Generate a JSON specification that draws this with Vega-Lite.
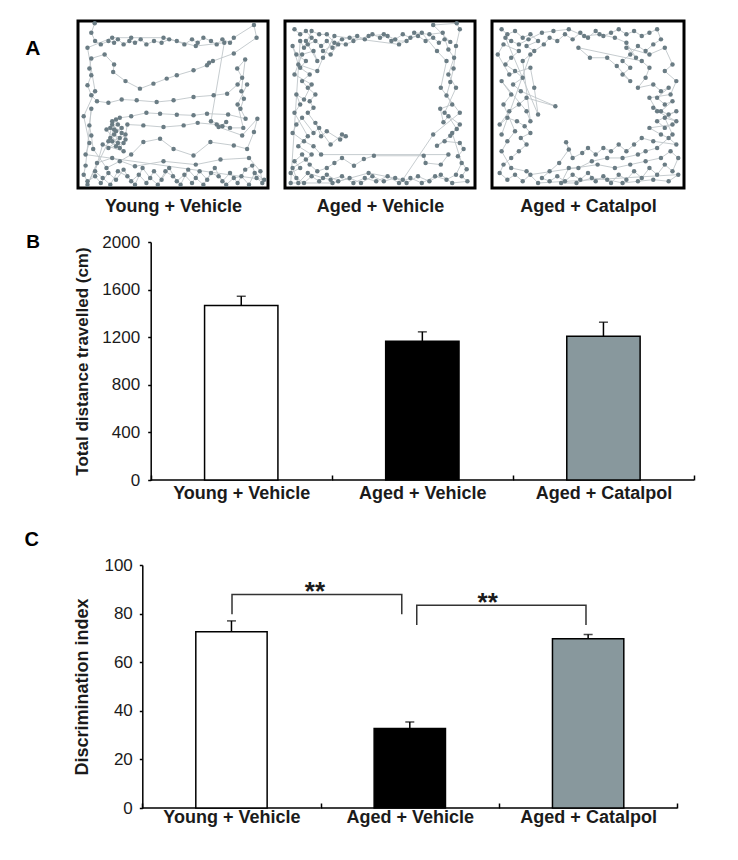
{
  "$schema": "https://vega.github.io/schema/vega-lite/v6.json",
  "background": "white",
  "padding": {"left": 24, "top": 19, "right": 5, "bottom": 5},
  "spacing": 16,
  "config": {
    "font": "Liberation Sans",
    "view": {"stroke": null},
    "axis": {"domainColor": "black", "domainWidth": 1.5, "tickColor": "black", "tickWidth": 1.5, "labelColor": "#1b1b1b", "titleColor": "#1b1b1b", "grid": false, "titleFontWeight": "bold"},
    "axisX": {"tickBand": "extent", "tickSize": -5, "labelAngle": 0, "labelFontSize": 18, "labelFontWeight": "bold", "labelPadding": 6},
    "axisY": {"labelFontSize": 17, "tickSize": 3, "labelPadding": 8, "format": "d"},
    "title": {"color": "black", "fontWeight": "bold"}
  },
  "datasets": {
    "track": [
      {"p":"Y","i":1,"x":8.8,"y":98.6},{"p":"Y","i":2,"x":7,"y":93},{"p":"Y","i":3,"x":9,"y":88},{"p":"Y","i":4,"x":12,"y":86},{"p":"Y","i":5,"x":16,"y":88},{"p":"Y","i":6,"x":19,"y":87},{"p":"Y","i":7,"x":21,"y":89},{"p":"Y","i":8,"x":24,"y":86},{"p":"Y","i":9,"x":27,"y":88},{"p":"Y","i":10,"x":30,"y":87},
      {"p":"Y","i":11,"x":33,"y":89},{"p":"Y","i":12,"x":36,"y":86},{"p":"Y","i":13,"x":40,"y":88},{"p":"Y","i":14,"x":44,"y":87},{"p":"Y","i":15,"x":48,"y":89},{"p":"Y","i":16,"x":52,"y":88},{"p":"Y","i":17,"x":56,"y":86},{"p":"Y","i":18,"x":60,"y":89},{"p":"Y","i":19,"x":63,"y":87},{"p":"Y","i":20,"x":66,"y":90},
      {"p":"Y","i":21,"x":70,"y":88},{"p":"Y","i":22,"x":73,"y":86},{"p":"Y","i":23,"x":76,"y":89},{"p":"Y","i":24,"x":80,"y":87},{"p":"Y","i":25,"x":82,"y":90},{"p":"Y","i":26,"x":92.6,"y":97.6},{"p":"Y","i":27,"x":94,"y":90},{"p":"Y","i":28,"x":82,"y":80.6},{"p":"Y","i":29,"x":71,"y":76},{"p":"Y","i":30,"x":69,"y":75},
      {"p":"Y","i":31,"x":67.9,"y":73.5},{"p":"Y","i":32,"x":60.8,"y":70.5},{"p":"Y","i":33,"x":52,"y":67.5},{"p":"Y","i":34,"x":46.7,"y":65.5},{"p":"Y","i":35,"x":39.7,"y":62.5},{"p":"Y","i":36,"x":32.6,"y":59.5},{"p":"Y","i":37,"x":25,"y":64},{"p":"Y","i":38,"x":18.5,"y":69.5},{"p":"Y","i":39,"x":19,"y":74},{"p":"Y","i":40,"x":14,"y":80},
      {"p":"Y","i":41,"x":7,"y":77.6},{"p":"Y","i":42,"x":6,"y":71.5},{"p":"Y","i":43,"x":7,"y":67.5},{"p":"Y","i":44,"x":5,"y":61.5},{"p":"Y","i":45,"x":7,"y":55.5},{"p":"Y","i":46,"x":10,"y":52},{"p":"Y","i":47,"x":16,"y":51},{"p":"Y","i":48,"x":23,"y":53},{"p":"Y","i":49,"x":30.9,"y":52.5},{"p":"Y","i":50,"x":41.4,"y":51.5},
      {"p":"Y","i":51,"x":50.3,"y":52.5},{"p":"Y","i":52,"x":60.8,"y":54.5},{"p":"Y","i":53,"x":71.4,"y":55.5},{"p":"Y","i":54,"x":78.5,"y":56.5},{"p":"Y","i":55,"x":84,"y":62},{"p":"Y","i":56,"x":86.4,"y":66},{"p":"Y","i":57,"x":83.8,"y":71.5},{"p":"Y","i":58,"x":88,"y":77},{"p":"Y","i":59,"x":86,"y":58},{"p":"Y","i":60,"x":87.3,"y":53.5},
      {"p":"Y","i":61,"x":85.5,"y":47.5},{"p":"Y","i":62,"x":88.2,"y":41.5},{"p":"Y","i":63,"x":79,"y":44},{"p":"Y","i":64,"x":67.9,"y":44.5},{"p":"Y","i":65,"x":60.8,"y":43.5},{"p":"Y","i":66,"x":52,"y":43.9},{"p":"Y","i":67,"x":43.2,"y":44.5},{"p":"Y","i":68,"x":36,"y":45},{"p":"Y","i":69,"x":28,"y":43},{"p":"Y","i":70,"x":22,"y":42},
      {"p":"Y","i":71,"x":18,"y":40},{"p":"Y","i":72,"x":21,"y":38},{"p":"Y","i":73,"x":17,"y":36},{"p":"Y","i":74,"x":20,"y":34},{"p":"Y","i":75,"x":23,"y":36},{"p":"Y","i":76,"x":19,"y":32},{"p":"Y","i":77,"x":22,"y":30},{"p":"Y","i":78,"x":18,"y":28},{"p":"Y","i":79,"x":24,"y":27},{"p":"Y","i":80,"x":20,"y":25},
      {"p":"Y","i":81,"x":16,"y":24},{"p":"Y","i":82,"x":25,"y":32},{"p":"Y","i":83,"x":26,"y":38},{"p":"Y","i":84,"x":34.4,"y":37.5},{"p":"Y","i":85,"x":45,"y":36.5},{"p":"Y","i":86,"x":55.6,"y":37.5},{"p":"Y","i":87,"x":63,"y":39},{"p":"Y","i":88,"x":73,"y":38},{"p":"Y","i":89,"x":76,"y":37},{"p":"Y","i":90,"x":78,"y":39.5},
      {"p":"Y","i":91,"x":74,"y":36.5},{"p":"Y","i":92,"x":86.4,"y":31.5},{"p":"Y","i":93,"x":94.4,"y":41.5},{"p":"Y","i":94,"x":92.6,"y":33.5},{"p":"Y","i":95,"x":89,"y":23.4},{"p":"Y","i":96,"x":82,"y":25.5},{"p":"Y","i":97,"x":69.7,"y":27.5},{"p":"Y","i":98,"x":60.8,"y":19.4},{"p":"Y","i":99,"x":50.3,"y":23.4},{"p":"Y","i":100,"x":43.2,"y":29.5},
      {"p":"Y","i":101,"x":34.4,"y":27.5},{"p":"Y","i":102,"x":28,"y":20},{"p":"Y","i":103,"x":22,"y":16},{"p":"Y","i":104,"x":15,"y":12},{"p":"Y","i":105,"x":8,"y":23.4},{"p":"Y","i":106,"x":7,"y":31.5},{"p":"Y","i":107,"x":6,"y":37.5},{"p":"Y","i":108,"x":7,"y":47.5},{"p":"Y","i":109,"x":4,"y":13.4},{"p":"Y","i":110,"x":3,"y":8},
      {"p":"Y","i":111,"x":5,"y":4},{"p":"Y","i":112,"x":9,"y":7},{"p":"Y","i":113,"x":12,"y":3},{"p":"Y","i":114,"x":16,"y":9},{"p":"Y","i":115,"x":20,"y":5},{"p":"Y","i":116,"x":24,"y":11},{"p":"Y","i":117,"x":28,"y":4},{"p":"Y","i":118,"x":32,"y":8},{"p":"Y","i":119,"x":36,"y":3},{"p":"Y","i":120,"x":40,"y":10},
      {"p":"Y","i":121,"x":44,"y":5},{"p":"Y","i":122,"x":48,"y":12},{"p":"Y","i":123,"x":52,"y":4},{"p":"Y","i":124,"x":56,"y":8},{"p":"Y","i":125,"x":60,"y":3},{"p":"Y","i":126,"x":64,"y":10},{"p":"Y","i":127,"x":68,"y":5},{"p":"Y","i":128,"x":72,"y":12},{"p":"Y","i":129,"x":76,"y":4},{"p":"Y","i":130,"x":80,"y":9},
      {"p":"Y","i":131,"x":84,"y":3},{"p":"Y","i":132,"x":88,"y":11},{"p":"Y","i":133,"x":91.7,"y":13.4},{"p":"Y","i":134,"x":94,"y":6},{"p":"Y","i":135,"x":97,"y":3},{"p":"Y","i":136,"x":96,"y":10},{"p":"Y","i":137,"x":90,"y":18},{"p":"Y","i":138,"x":75,"y":17},{"p":"Y","i":139,"x":62,"y":14},{"p":"Y","i":140,"x":45,"y":16},
      {"p":"Y","i":141,"x":30,"y":13},{"p":"Y","i":142,"x":18,"y":18},{"p":"Y","i":143,"x":10,"y":15},{"p":"Y","i":144,"x":5,"y":2},
      {"p":"Y","i":145,"x":17,"y":30},{"p":"Y","i":146,"x":19,"y":35},{"p":"Y","i":147,"x":21,"y":27},{"p":"Y","i":148,"x":23,"y":33},{"p":"Y","i":149,"x":18,"y":38},{"p":"Y","i":150,"x":16,"y":28},{"p":"Y","i":151,"x":22,"y":24},{"p":"Y","i":152,"x":25,"y":29},{"p":"Y","i":153,"x":20,"y":41},{"p":"Y","i":154,"x":15,"y":35},
      {"p":"Y","i":155,"x":24,"y":22},{"p":"Y","i":156,"x":13,"y":26},{"p":"Y","i":157,"x":9,"y":10},{"p":"Y","i":158,"x":13,"y":6},{"p":"Y","i":159,"x":17,"y":2},{"p":"Y","i":160,"x":21,"y":10},{"p":"Y","i":161,"x":26,"y":7},{"p":"Y","i":162,"x":30,"y":2},{"p":"Y","i":163,"x":34,"y":12},{"p":"Y","i":164,"x":38,"y":6},
      {"p":"Y","i":165,"x":42,"y":2},{"p":"Y","i":166,"x":46,"y":10},{"p":"Y","i":167,"x":50,"y":7},{"p":"Y","i":168,"x":54,"y":2},{"p":"Y","i":169,"x":58,"y":11},{"p":"Y","i":170,"x":62,"y":6},{"p":"Y","i":171,"x":66,"y":2},{"p":"Y","i":172,"x":70,"y":9},{"p":"Y","i":173,"x":74,"y":7},{"p":"Y","i":174,"x":78,"y":2},
      {"p":"Y","i":175,"x":82,"y":6},{"p":"Y","i":176,"x":86,"y":7},{"p":"Y","i":177,"x":90,"y":2},{"p":"Y","i":178,"x":93,"y":9},{"p":"Y","i":179,"x":98,"y":5},{"p":"Y","i":180,"x":4,"y":20},{"p":"Y","i":181,"x":6,"y":27},{"p":"Y","i":182,"x":3,"y":43},{"p":"Y","i":183,"x":9,"y":58},{"p":"Y","i":184,"x":5,"y":84},
      {"p":"Y","i":185,"x":18,"y":90},{"p":"Y","i":186,"x":28,"y":90},{"p":"Y","i":187,"x":45,"y":90},{"p":"Y","i":188,"x":62,"y":85},{"p":"Y","i":189,"x":77,"y":87},{"p":"Y","i":190,"x":70,"y":40},{"p":"Y","i":191,"x":80,"y":36},{"p":"Y","i":192,"x":87,"y":36},{"p":"Y","i":193,"x":84,"y":50},{"p":"Y","i":194,"x":89,"y":62},
      {"p":"V","i":1,"x":5,"y":95},{"p":"V","i":2,"x":8,"y":92},{"p":"V","i":3,"x":11,"y":94},{"p":"V","i":4,"x":14,"y":90},{"p":"V","i":5,"x":12,"y":86},{"p":"V","i":6,"x":16,"y":88},{"p":"V","i":7,"x":19,"y":85},{"p":"V","i":8,"x":22,"y":88},{"p":"V","i":9,"x":25,"y":84},{"p":"V","i":10,"x":28,"y":86},
      {"p":"V","i":11,"x":24,"y":80},{"p":"V","i":12,"x":20,"y":82},{"p":"V","i":13,"x":30,"y":89},{"p":"V","i":14,"x":34,"y":90},{"p":"V","i":15,"x":38,"y":91},{"p":"V","i":16,"x":42,"y":89},{"p":"V","i":17,"x":46,"y":92},{"p":"V","i":18,"x":50,"y":90},{"p":"V","i":19,"x":54,"y":91},{"p":"V","i":20,"x":58,"y":89},
      {"p":"V","i":21,"x":62,"y":92},{"p":"V","i":22,"x":66,"y":90},{"p":"V","i":23,"x":70,"y":91},{"p":"V","i":24,"x":74,"y":88},{"p":"V","i":25,"x":78,"y":90},{"p":"V","i":26,"x":81,"y":87},{"p":"V","i":27,"x":84,"y":89},{"p":"V","i":28,"x":87,"y":87.5},{"p":"V","i":29,"x":78,"y":97.6},{"p":"V","i":30,"x":90.4,"y":98.6},
      {"p":"V","i":31,"x":92,"y":95},{"p":"V","i":32,"x":90,"y":85},{"p":"V","i":33,"x":88.7,"y":71.5},{"p":"V","i":34,"x":87,"y":63.5},{"p":"V","i":35,"x":85,"y":55.4},{"p":"V","i":36,"x":88,"y":50},{"p":"V","i":37,"x":81.7,"y":47.4},{"p":"V","i":38,"x":83.4,"y":39.4},{"p":"V","i":39,"x":86,"y":43},{"p":"V","i":40,"x":90.4,"y":35.3},
      {"p":"V","i":41,"x":87,"y":31.3},{"p":"V","i":42,"x":80,"y":25.3},{"p":"V","i":43,"x":84,"y":28},{"p":"V","i":44,"x":92,"y":27},{"p":"V","i":45,"x":94,"y":23.3},{"p":"V","i":46,"x":91,"y":19},{"p":"V","i":47,"x":95.6,"y":11.2},{"p":"V","i":48,"x":93,"y":7},{"p":"V","i":49,"x":96,"y":4},{"p":"V","i":50,"x":88,"y":3},
      {"p":"V","i":51,"x":82,"y":8},{"p":"V","i":52,"x":76,"y":4},{"p":"V","i":53,"x":70,"y":7},{"p":"V","i":54,"x":64,"y":3},{"p":"V","i":55,"x":58,"y":6},{"p":"V","i":56,"x":52,"y":4},{"p":"V","i":57,"x":46,"y":7},{"p":"V","i":58,"x":40,"y":3},{"p":"V","i":59,"x":34,"y":6},{"p":"V","i":60,"x":28,"y":4},
      {"p":"V","i":61,"x":22,"y":8},{"p":"V","i":62,"x":18,"y":4},{"p":"V","i":63,"x":14,"y":7},{"p":"V","i":64,"x":10,"y":3},{"p":"V","i":65,"x":6,"y":6},{"p":"V","i":66,"x":3,"y":9},{"p":"V","i":67,"x":8,"y":12},{"p":"V","i":68,"x":5,"y":16},{"p":"V","i":69,"x":9,"y":20},{"p":"V","i":70,"x":13,"y":14},
      {"p":"V","i":71,"x":17,"y":10},{"p":"V","i":72,"x":22,"y":12},{"p":"V","i":73,"x":26,"y":15},{"p":"V","i":74,"x":30,"y":18},{"p":"V","i":75,"x":36.3,"y":13.3},{"p":"V","i":76,"x":41.5,"y":17.3},{"p":"V","i":77,"x":46.8,"y":19.3},{"p":"V","i":78,"x":73,"y":19.3},{"p":"V","i":79,"x":74,"y":15},{"p":"V","i":80,"x":82,"y":14},
      {"p":"V","i":81,"x":86,"y":20},{"p":"V","i":82,"x":19,"y":20},{"p":"V","i":83,"x":15,"y":25},{"p":"V","i":84,"x":10,"y":28},{"p":"V","i":85,"x":4,"y":33},{"p":"V","i":86,"x":6,"y":38},{"p":"V","i":87,"x":9,"y":42},{"p":"V","i":88,"x":15,"y":33},{"p":"V","i":89,"x":18,"y":36},{"p":"V","i":90,"x":16,"y":39},
      {"p":"V","i":91,"x":19,"y":31},{"p":"V","i":92,"x":22,"y":34},{"p":"V","i":93,"x":29,"y":29},{"p":"V","i":94,"x":32,"y":31},{"p":"V","i":95,"x":30,"y":32},{"p":"V","i":96,"x":24,"y":26},{"p":"V","i":97,"x":12,"y":45},{"p":"V","i":98,"x":15,"y":48},{"p":"V","i":99,"x":13,"y":52},{"p":"V","i":100,"x":16,"y":56},
      {"p":"V","i":101,"x":12,"y":60},{"p":"V","i":102,"x":9,"y":64},{"p":"V","i":103,"x":13,"y":68},{"p":"V","i":104,"x":8,"y":72},{"p":"V","i":105,"x":11,"y":76},{"p":"V","i":106,"x":6,"y":80},{"p":"V","i":107,"x":4,"y":85},{"p":"V","i":108,"x":7,"y":74},{"p":"V","i":109,"x":17,"y":70},{"p":"V","i":110,"x":20,"y":78},
      {"p":"V","i":111,"x":26,"y":91},{"p":"V","i":112,"x":60,"y":86},{"p":"V","i":113,"x":72,"y":93},{"p":"V","i":114,"x":80,"y":82},{"p":"V","i":115,"x":85,"y":76},{"p":"V","i":116,"x":82,"y":60},{"p":"V","i":117,"x":92,"y":45},{"p":"V","i":118,"x":78,"y":32},{"p":"V","i":119,"x":62,"y":5},{"p":"V","i":120,"x":44,"y":9},
      {"p":"V","i":121,"x":25,"y":3},{"p":"V","i":122,"x":3,"y":3},
      {"p":"V","i":123,"x":8,"y":88},{"p":"V","i":124,"x":10,"y":84},{"p":"V","i":125,"x":14,"y":94},{"p":"V","i":126,"x":18,"y":92},{"p":"V","i":127,"x":22,"y":92},{"p":"V","i":128,"x":26,"y":87},{"p":"V","i":129,"x":32,"y":86},{"p":"V","i":130,"x":36,"y":88},{"p":"V","i":131,"x":44,"y":91},{"p":"V","i":132,"x":52,"y":92},
      {"p":"V","i":133,"x":56,"y":88},{"p":"V","i":134,"x":64,"y":88},{"p":"V","i":135,"x":68,"y":93},{"p":"V","i":136,"x":76,"y":92},{"p":"V","i":137,"x":83,"y":93},{"p":"V","i":138,"x":86,"y":83},{"p":"V","i":139,"x":89,"y":78},{"p":"V","i":140,"x":86,"y":68},{"p":"V","i":141,"x":90,"y":60},{"p":"V","i":142,"x":84,"y":45},
      {"p":"V","i":143,"x":92,"y":38},{"p":"V","i":144,"x":88,"y":33},{"p":"V","i":145,"x":93,"y":15},{"p":"V","i":146,"x":90,"y":8},{"p":"V","i":147,"x":85,"y":5},{"p":"V","i":148,"x":79,"y":7},{"p":"V","i":149,"x":72,"y":3},{"p":"V","i":150,"x":66,"y":6},{"p":"V","i":151,"x":60,"y":3},{"p":"V","i":152,"x":54,"y":7},
      {"p":"V","i":153,"x":48,"y":4},{"p":"V","i":154,"x":42,"y":6},{"p":"V","i":155,"x":36,"y":3},{"p":"V","i":156,"x":30,"y":7},{"p":"V","i":157,"x":24,"y":5},{"p":"V","i":158,"x":20,"y":6},{"p":"V","i":159,"x":12,"y":9},{"p":"V","i":160,"x":7,"y":3},{"p":"V","i":161,"x":4,"y":12},{"p":"V","i":162,"x":11,"y":17},
      {"p":"V","i":163,"x":14,"y":20},{"p":"V","i":164,"x":7,"y":25},{"p":"V","i":165,"x":12,"y":31},{"p":"V","i":166,"x":5,"y":45},{"p":"V","i":167,"x":8,"y":50},{"p":"V","i":168,"x":6,"y":56},{"p":"V","i":169,"x":10,"y":53},{"p":"V","i":170,"x":14,"y":62},{"p":"V","i":171,"x":5,"y":68},{"p":"V","i":172,"x":9,"y":80},
      {"p":"V","i":173,"x":15,"y":82},{"p":"V","i":174,"x":17,"y":76},{"p":"V","i":175,"x":11,"y":88},
      {"p":"C","i":1,"x":5,"y":95},{"p":"C","i":2,"x":8,"y":92},{"p":"C","i":3,"x":12,"y":94},{"p":"C","i":4,"x":16,"y":90},{"p":"C","i":5,"x":20,"y":92},{"p":"C","i":6,"x":24,"y":88},{"p":"C","i":7,"x":18,"y":85},{"p":"C","i":8,"x":22,"y":82},{"p":"C","i":9,"x":27,"y":86},{"p":"C","i":10,"x":30,"y":90},
      {"p":"C","i":11,"x":34,"y":88},{"p":"C","i":12,"x":38,"y":92},{"p":"C","i":13,"x":42,"y":89},{"p":"C","i":14,"x":46,"y":93},{"p":"C","i":15,"x":50,"y":90},{"p":"C","i":16,"x":54,"y":94},{"p":"C","i":17,"x":58,"y":91},{"p":"C","i":18,"x":62,"y":93},{"p":"C","i":19,"x":66,"y":95},{"p":"C","i":20,"x":70,"y":92},
      {"p":"C","i":21,"x":74,"y":94},{"p":"C","i":22,"x":78,"y":91},{"p":"C","i":23,"x":82,"y":93},{"p":"C","i":24,"x":86,"y":95},{"p":"C","i":25,"x":88,"y":89},{"p":"C","i":26,"x":84,"y":86},{"p":"C","i":27,"x":80,"y":82},{"p":"C","i":28,"x":76,"y":85},{"p":"C","i":29,"x":72,"y":80},{"p":"C","i":30,"x":68,"y":76},
      {"p":"C","i":31,"x":72,"y":72},{"p":"C","i":32,"x":68,"y":68},{"p":"C","i":33,"x":72,"y":64},{"p":"C","i":34,"x":65,"y":73},{"p":"C","i":35,"x":60,"y":78},{"p":"C","i":36,"x":51,"y":78},{"p":"C","i":37,"x":45,"y":84},{"p":"C","i":38,"x":78,"y":76},{"p":"C","i":39,"x":82,"y":72},{"p":"C","i":40,"x":80,"y":66},
      {"p":"C","i":41,"x":76,"y":60},{"p":"C","i":42,"x":84,"y":62},{"p":"C","i":43,"x":88,"y":58},{"p":"C","i":44,"x":92,"y":60},{"p":"C","i":45,"x":86,"y":54},{"p":"C","i":46,"x":90,"y":50},{"p":"C","i":47,"x":94,"y":52},{"p":"C","i":48,"x":88,"y":46},{"p":"C","i":49,"x":84,"y":48},{"p":"C","i":50,"x":92,"y":44},
      {"p":"C","i":51,"x":96,"y":46},{"p":"C","i":52,"x":86,"y":40},{"p":"C","i":53,"x":90,"y":36},{"p":"C","i":54,"x":94,"y":38},{"p":"C","i":55,"x":82,"y":36},{"p":"C","i":56,"x":88,"y":32},{"p":"C","i":57,"x":92,"y":30},{"p":"C","i":58,"x":96,"y":26},{"p":"C","i":59,"x":84,"y":28},{"p":"C","i":60,"x":78,"y":30},
      {"p":"C","i":61,"x":74,"y":26},{"p":"C","i":62,"x":70,"y":22},{"p":"C","i":63,"x":66,"y":26},{"p":"C","i":64,"x":62,"y":22},{"p":"C","i":65,"x":58,"y":24},{"p":"C","i":66,"x":54,"y":20},{"p":"C","i":67,"x":50,"y":24},{"p":"C","i":68,"x":47,"y":21},{"p":"C","i":69,"x":42,"y":18},{"p":"C","i":70,"x":38.6,"y":27.4},
      {"p":"C","i":71,"x":40,"y":23},{"p":"C","i":72,"x":35,"y":15},{"p":"C","i":73,"x":30,"y":10},{"p":"C","i":74,"x":26,"y":6},{"p":"C","i":75,"x":30,"y":4},{"p":"C","i":76,"x":34,"y":7},{"p":"C","i":77,"x":38,"y":4},{"p":"C","i":78,"x":42,"y":8},{"p":"C","i":79,"x":46,"y":5},{"p":"C","i":80,"x":50,"y":9},
      {"p":"C","i":81,"x":54,"y":4},{"p":"C","i":82,"x":58,"y":7},{"p":"C","i":83,"x":62,"y":3},{"p":"C","i":84,"x":66,"y":8},{"p":"C","i":85,"x":70,"y":5},{"p":"C","i":86,"x":74,"y":10},{"p":"C","i":87,"x":78,"y":6},{"p":"C","i":88,"x":82,"y":12},{"p":"C","i":89,"x":86,"y":8},{"p":"C","i":90,"x":90,"y":14},
      {"p":"C","i":91,"x":94,"y":10},{"p":"C","i":92,"x":97,"y":18},{"p":"C","i":93,"x":93,"y":22},{"p":"C","i":94,"x":88,"y":18},{"p":"C","i":95,"x":80,"y":16},{"p":"C","i":96,"x":72,"y":14},{"p":"C","i":97,"x":64,"y":12},{"p":"C","i":98,"x":55,"y":14},{"p":"C","i":99,"x":20,"y":8},{"p":"C","i":100,"x":16,"y":4},
      {"p":"C","i":101,"x":12,"y":8},{"p":"C","i":102,"x":8,"y":5},{"p":"C","i":103,"x":4,"y":9},{"p":"C","i":104,"x":6,"y":14},{"p":"C","i":105,"x":10,"y":18},{"p":"C","i":106,"x":14,"y":22},{"p":"C","i":107,"x":18,"y":26},{"p":"C","i":108,"x":15,"y":30},{"p":"C","i":109,"x":20,"y":33},{"p":"C","i":110,"x":17,"y":37},
      {"p":"C","i":111,"x":13,"y":40},{"p":"C","i":112,"x":8,"y":42},{"p":"C","i":113,"x":4,"y":38},{"p":"C","i":114,"x":9,"y":46},{"p":"C","i":115,"x":14,"y":50},{"p":"C","i":116,"x":18,"y":54},{"p":"C","i":117,"x":33,"y":49},{"p":"C","i":118,"x":15,"y":58},{"p":"C","i":119,"x":11,"y":62},{"p":"C","i":120,"x":16,"y":66},
      {"p":"C","i":121,"x":12,"y":70},{"p":"C","i":122,"x":7,"y":74},{"p":"C","i":123,"x":10,"y":78},{"p":"C","i":124,"x":14,"y":82},{"p":"C","i":125,"x":6,"y":86},{"p":"C","i":126,"x":3,"y":80},{"p":"C","i":127,"x":9,"y":68},{"p":"C","i":128,"x":20,"y":72},{"p":"C","i":129,"x":22,"y":60},{"p":"C","i":130,"x":24,"y":44},
      {"p":"C","i":131,"x":7,"y":90},{"p":"C","i":132,"x":10,"y":88},{"p":"C","i":133,"x":14,"y":86},{"p":"C","i":134,"x":19,"y":89},{"p":"C","i":135,"x":26,"y":93},{"p":"C","i":136,"x":32,"y":94},{"p":"C","i":137,"x":40,"y":95},{"p":"C","i":138,"x":48,"y":91},{"p":"C","i":139,"x":56,"y":92},{"p":"C","i":140,"x":64,"y":90},
      {"p":"C","i":141,"x":70,"y":87},{"p":"C","i":142,"x":75,"y":78},{"p":"C","i":143,"x":70,"y":84},{"p":"C","i":144,"x":82,"y":80},{"p":"C","i":145,"x":90,"y":84},{"p":"C","i":146,"x":94,"y":74},{"p":"C","i":147,"x":90,"y":70},{"p":"C","i":148,"x":96,"y":64},{"p":"C","i":149,"x":93,"y":56},{"p":"C","i":150,"x":82,"y":54},
      {"p":"C","i":151,"x":86,"y":46},{"p":"C","i":152,"x":96,"y":40},{"p":"C","i":153,"x":90,"y":42},{"p":"C","i":154,"x":94,"y":32},{"p":"C","i":155,"x":86,"y":24},{"p":"C","i":156,"x":80,"y":22},{"p":"C","i":157,"x":76,"y":20},{"p":"C","i":158,"x":68,"y":18},{"p":"C","i":159,"x":60,"y":18},{"p":"C","i":160,"x":52,"y":16},
      {"p":"C","i":161,"x":45,"y":12},{"p":"C","i":162,"x":40,"y":12},{"p":"C","i":163,"x":36,"y":3},{"p":"C","i":164,"x":44,"y":3},{"p":"C","i":165,"x":52,"y":6},{"p":"C","i":166,"x":60,"y":5},{"p":"C","i":167,"x":68,"y":3},{"p":"C","i":168,"x":76,"y":4},{"p":"C","i":169,"x":84,"y":5},{"p":"C","i":170,"x":92,"y":4},
      {"p":"C","i":171,"x":97,"y":8},{"p":"C","i":172,"x":24,"y":3},{"p":"C","i":173,"x":18,"y":10},{"p":"C","i":174,"x":10,"y":12},{"p":"C","i":175,"x":5,"y":22},{"p":"C","i":176,"x":8,"y":28},{"p":"C","i":177,"x":12,"y":34},{"p":"C","i":178,"x":6,"y":50},{"p":"C","i":179,"x":10,"y":56},{"p":"C","i":180,"x":5,"y":64},
      {"p":"C","i":181,"x":18,"y":46},{"p":"C","i":182,"x":20,"y":40},{"p":"C","i":183,"x":16,"y":76},{"p":"C","i":184,"x":20,"y":80},{"p":"C","i":185,"x":5,"y":32}
    ],
    "dist": [
      {"g": "Young + Vehicle", "v": 1466, "e": 1544},
      {"g": "Aged + Vehicle", "v": 1167, "e": 1245},
      {"g": "Aged + Catalpol", "v": 1209, "e": 1326}
    ],
    "disc": [
      {"g": "Young + Vehicle", "v": 72.5, "e": 77.0},
      {"g": "Aged + Vehicle", "v": 32.7, "e": 35.4},
      {"g": "Aged + Catalpol", "v": 69.6, "e": 71.4}
    ],
    "brk": [
      {"b": 1, "k": 1, "x": 0.503, "y": 79.7},
      {"b": 1, "k": 2, "x": 0.503, "y": 87.9},
      {"b": 1, "k": 3, "x": 1.455, "y": 87.9},
      {"b": 1, "k": 4, "x": 1.455, "y": 79.7},
      {"b": 2, "k": 1, "x": 1.539, "y": 75.3},
      {"b": 2, "k": 2, "x": 1.539, "y": 83.4},
      {"b": 2, "k": 3, "x": 2.488, "y": 83.4},
      {"b": 2, "k": 4, "x": 2.488, "y": 75.3}
    ],
    "stars": [
      {"x": 0.968, "y": 85.6, "t": "**"},
      {"x": 1.937, "y": 81.0, "t": "**"}
    ]
  },
  "vconcat": [
    {
      "data": {"name": "track"},
      "spacing": 13,
      "title": {"text": "A", "orient": "left", "anchor": "end", "angle": 0, "fontSize": 21, "offset": 36, "align": "left", "baseline": "top", "dy": 18},
      "hconcat": [
        {
          "width": 190, "height": 167,
          "view": {"stroke": "black", "strokeWidth": 3},
          "transform": [{"filter": "datum.p == 'Y'"}],
          "encoding": {
            "x": {"field": "x", "type": "quantitative", "scale": {"domain": [0, 100], "nice": false},
              "axis": {"title": "Young + Vehicle", "domain": false, "ticks": false, "labels": false, "titleFontSize": 18, "titlePadding": 9}},
            "y": {"field": "y", "type": "quantitative", "scale": {"domain": [0, 100], "nice": false}, "axis": null}
          },
          "layer": [
            {"mark": {"type": "line", "color": "#c0c6c9", "strokeWidth": 0.9}, "encoding": {"order": {"field": "i", "type": "quantitative"}}},
            {"mark": {"type": "circle", "color": "#6a7c84", "size": 20, "opacity": 1}}
          ]
        },
        {
          "width": 190, "height": 167,
          "view": {"stroke": "black", "strokeWidth": 3},
          "transform": [{"filter": "datum.p == 'V'"}],
          "encoding": {
            "x": {"field": "x", "type": "quantitative", "scale": {"domain": [0, 100], "nice": false},
              "axis": {"title": "Aged + Vehicle", "domain": false, "ticks": false, "labels": false, "titleFontSize": 18, "titlePadding": 9}},
            "y": {"field": "y", "type": "quantitative", "scale": {"domain": [0, 100], "nice": false}, "axis": null}
          },
          "layer": [
            {"mark": {"type": "line", "color": "#c0c6c9", "strokeWidth": 0.9}, "encoding": {"order": {"field": "i", "type": "quantitative"}}},
            {"mark": {"type": "circle", "color": "#6a7c84", "size": 20, "opacity": 1}}
          ]
        },
        {
          "width": 192, "height": 167,
          "view": {"stroke": "black", "strokeWidth": 3},
          "transform": [{"filter": "datum.p == 'C'"}],
          "encoding": {
            "x": {"field": "x", "type": "quantitative", "scale": {"domain": [0, 100], "nice": false},
              "axis": {"title": "Aged + Catalpol", "domain": false, "ticks": false, "labels": false, "titleFontSize": 18, "titlePadding": 9}},
            "y": {"field": "y", "type": "quantitative", "scale": {"domain": [0, 100], "nice": false}, "axis": null}
          },
          "layer": [
            {"mark": {"type": "line", "color": "#c0c6c9", "strokeWidth": 0.9}, "encoding": {"order": {"field": "i", "type": "quantitative"}}},
            {"mark": {"type": "circle", "color": "#6a7c84", "size": 20, "opacity": 1}}
          ]
        }
      ]
    },
    {
      "data": {"name": "dist"},
      "width": 616,
      "height": 238,
      "title": {"text": "B", "orient": "left", "anchor": "end", "angle": 0, "fontSize": 19, "offset": 34, "align": "left", "baseline": "top"},
      "encoding": {
        "x": {"field": "g", "type": "nominal", "sort": ["Young + Vehicle", "Aged + Vehicle", "Aged + Catalpol"],
          "scale": {"paddingInner": 0, "paddingOuter": 0.2007, "align": 1},
          "axis": {"title": " ", "titleFontSize": 8, "titlePadding": 4, "labelPadding": 9, "domain": false}}
      },
      "layer": [
        {
          "mark": {"type": "rect", "stroke": "black", "strokeWidth": 1.5, "fill": null},
          "encoding": {"y": {"datum": 0}, "y2": {"datum": 0}}
        },
        {
          "mark": {"type": "rule", "color": "black", "strokeWidth": 1.5},
          "encoding": {"y": {"field": "v", "type": "quantitative"}, "y2": {"field": "e"}}
        },
        {
          "mark": {"type": "tick", "color": "black", "thickness": 1.5, "size": 9},
          "encoding": {"y": {"field": "e", "type": "quantitative"}}
        },
        {
          "mark": {"type": "bar", "width": {"band": 0.405}, "stroke": "black", "strokeWidth": 1.5},
          "encoding": {
            "y": {"field": "v", "type": "quantitative", "scale": {"domain": [0, 2000]},
              "axis": {"title": "Total distance travelled (cm)", "titleFontSize": 17, "titlePadding": 10, "offset": -72.7, "values": [0, 400, 800, 1200, 1600, 2000]}},
            "color": {"field": "g", "type": "nominal", "scale": {"domain": ["Young + Vehicle", "Aged + Vehicle", "Aged + Catalpol"], "range": ["#ffffff", "#000000", "#88989d"]}, "legend": null}
          }
        }
      ]
    },
    {
      "width": 599.3,
      "height": 243,
      "title": {"text": "C", "orient": "left", "anchor": "end", "angle": 0, "fontSize": 20, "offset": 35, "align": "left", "baseline": "top", "dy": -26},
      "resolve": {"scale": {"x": "independent"}, "axis": {"x": "independent"}},
      "layer": [
        {
          "data": {"name": "disc"},
          "encoding": {
            "x": {"field": "g", "type": "nominal", "sort": ["Young + Vehicle", "Aged + Vehicle", "Aged + Catalpol"],
              "scale": {"paddingInner": 0, "paddingOuter": 0.1803, "align": 1},
              "axis": {"title": null, "labelPadding": 5, "domain": false}}
          },
          "layer": [
            {
              "mark": {"type": "rect", "stroke": "black", "strokeWidth": 1.5, "fill": null},
              "encoding": {"y": {"datum": 0}, "y2": {"datum": 0}}
            },
            {
              "mark": {"type": "rule", "color": "black", "strokeWidth": 1.5},
              "encoding": {"y": {"field": "v", "type": "quantitative"}, "y2": {"field": "e"}}
            },
            {
              "mark": {"type": "tick", "color": "black", "thickness": 1.5, "size": 9},
              "encoding": {"y": {"field": "e", "type": "quantitative"}}
            },
            {
              "mark": {"type": "bar", "width": {"band": 0.4}, "stroke": "black", "strokeWidth": 1.5},
              "encoding": {
                "y": {"field": "v", "type": "quantitative", "scale": {"domain": [0, 100]},
                  "axis": {"title": "Discrimination index", "titleFontSize": 18, "titlePadding": 12, "offset": -64.3, "values": [0, 20, 40, 60, 80, 100], "labelPadding": 7}},
                "color": {"field": "g", "type": "nominal", "scale": {"domain": ["Young + Vehicle", "Aged + Vehicle", "Aged + Catalpol"], "range": ["#ffffff", "#000000", "#88989d"]}, "legend": null}
              }
            }
          ]
        },
        {
          "layer": [
            {
              "data": {"name": "brk"},
              "mark": {"type": "line", "color": "#333333", "strokeWidth": 1.5},
              "encoding": {
                "x": {"field": "x", "type": "quantitative", "scale": {"domain": [-0.3606, 3], "nice": false, "zero": false}, "axis": null},
                "y": {"field": "y", "type": "quantitative"},
                "detail": {"field": "b", "type": "nominal"},
                "order": {"field": "k", "type": "quantitative"}
              }
            },
            {
              "data": {"name": "stars"},
              "mark": {"type": "text", "fontSize": 26, "fontWeight": "bold", "color": "#1b1b1b", "baseline": "alphabetic"},
              "encoding": {
                "x": {"field": "x", "type": "quantitative", "axis": null},
                "y": {"field": "y", "type": "quantitative"},
                "text": {"field": "t"}
              }
            }
          ]
        }
      ]
    }
  ]
}
